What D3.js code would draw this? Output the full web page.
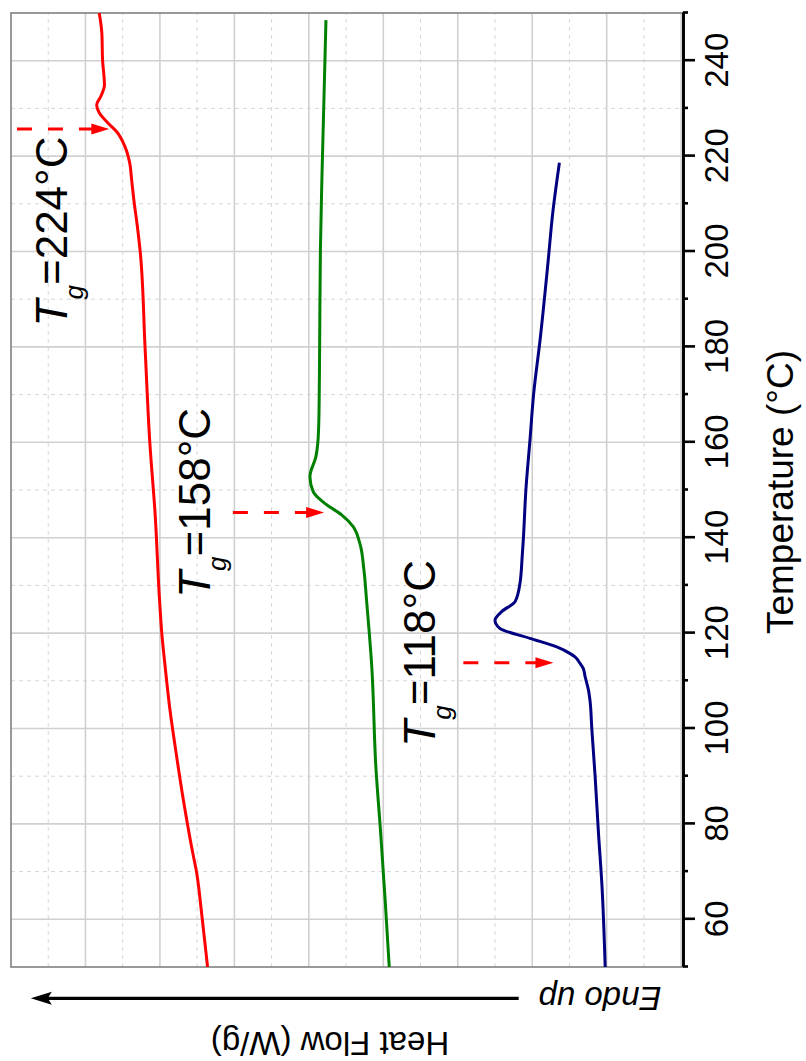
<!DOCTYPE html>
<html>
<head>
<meta charset="utf-8">
<script src="https://cdn.jsdelivr.net/npm/d3@7"></script>
<style>
  body { margin: 0; background: #fff; }
  svg { display: block; }
  text { font-family: "Liberation Sans", Arial, sans-serif; }
</style>
</head>
<body>
<div id="wrapper"></div>
<script>
// DSC heat flow curves
// temperature (°C) and heat flow (W/g, arbitrary offset)
const redTemp = [50, 61.3, 69.6, 75.2, 85.0, 96.2, 103.9, 113.0, 120.0, 126.9, 145.1, 159.8, 180.0, 200.0,
  205.5, 210.8, 215.0, 218.5, 222.0, 225.1, 226.9, 229.1, 230.7, 232.5, 234.9, 240.1, 245.8, 250];
const redFlow = [-0.528, -0.512, -0.499, -0.485, -0.463, -0.441, -0.427, -0.414, -0.405, -0.399, -0.387, -0.373, -0.360, -0.347,
  -0.339, -0.330, -0.324, -0.319, -0.306, -0.284, -0.261, -0.237, -0.230, -0.241, -0.251, -0.246, -0.244, -0.237];

const greenTemp = [50, 64.0, 78.0, 92.0, 113.0, 126.9, 133.2, 138.8, 142.3, 144.8, 146.9, 149.6, 152.8, 157.0,
  159.8, 165.0, 180.0, 200.0, 215.0, 248.5];
const greenFlow = [-1.016, -1.005, -0.993, -0.980, -0.969, -0.955, -0.948, -0.937, -0.919, -0.888, -0.848, -0.812, -0.803, -0.819,
  -0.824, -0.827, -0.829, -0.831, -0.835, -0.846];

const blueTemp = [50, 67.5, 78.0, 89.9, 100.0, 106.0, 108.1, 110.9, 112.6, 113.7, 115.0, 115.7, 117.1, 118.9,
  121.0, 122.7, 124.5, 126.6, 130.4, 136.0, 139.5, 150.0, 160.5, 170.3, 181.4, 198.2, 208.0, 218.6];
const blueFlow = [-1.596, -1.587, -1.578, -1.569, -1.560, -1.555, -1.551, -1.542, -1.537, -1.528, -1.515, -1.502, -1.466, -1.394,
  -1.313, -1.300, -1.318, -1.354, -1.367, -1.373, -1.376, -1.383, -1.394, -1.404, -1.421, -1.443, -1.455, -1.473];

// Tg annotations: label value, arrow temperature, arrow start/end heat flow
const tgValues = ["224", "158", "118"];
const arrowTemp = [225.7, 145.3, 113.8];
const arrowFrom = [-0.016, -0.596, -1.215];
const arrowTo = [-0.264, -0.841, -1.457];

const tempMajor = [60, 80, 100, 120, 140, 160, 180, 200, 220, 240];
const tempMinor = [50, 70, 90, 110, 130, 150, 170, 190, 210, 230, 250];
const flowMajor = [0, -0.2, -0.4, -0.6, -0.8, -1.0, -1.2, -1.4, -1.6, -1.8];
const flowMinor = [-0.1, -0.3, -0.5, -0.7, -0.9, -1.1, -1.3, -1.5, -1.7];

// chart is drawn upright (1061 x 806) then turned a quarter turn
const W = 1061, H = 806;
const margin = {top: 11, right: 13, bottom: 123, left: 94};

const svg = d3.select("#wrapper").append("svg")
  .attr("width", 806)
  .attr("height", 1061);

const root = svg.append("g")
  .attr("transform", "translate(0," + W + ") rotate(-90)");

const x = d3.scaleLinear().domain([50, 250]).range([margin.left, W - margin.right]);
const y = d3.scaleLinear().domain([0, -1.805]).range([margin.top, H - margin.bottom]);

// grid
const grid = root.append("g");
grid.selectAll(".vmin").data(tempMinor.filter(t => t > 50 && t < 250)).enter()
  .append("line")
  .attr("x1", d => x(d)).attr("x2", d => x(d))
  .attr("y1", y.range()[0]).attr("y2", y.range()[1])
  .attr("stroke", "#d6d6d6").attr("stroke-width", 1).attr("stroke-dasharray", "4,4");
grid.selectAll(".hmin").data(flowMinor).enter()
  .append("line")
  .attr("x1", x.range()[0]).attr("x2", x.range()[1])
  .attr("y1", d => y(d)).attr("y2", d => y(d))
  .attr("stroke", "#d6d6d6").attr("stroke-width", 1).attr("stroke-dasharray", "4,4");
grid.selectAll(".vmaj").data(tempMajor).enter()
  .append("line")
  .attr("x1", d => x(d)).attr("x2", d => x(d))
  .attr("y1", y.range()[0]).attr("y2", y.range()[1])
  .attr("stroke", "#d0d0d0").attr("stroke-width", 1.6);
grid.selectAll(".hmaj").data(flowMajor.filter(f => f < 0)).enter()
  .append("line")
  .attr("x1", x.range()[0]).attr("x2", x.range()[1])
  .attr("y1", d => y(d)).attr("y2", d => y(d))
  .attr("stroke", "#d0d0d0").attr("stroke-width", 1.6);

// frame
root.append("rect")
  .attr("x", x.range()[0]).attr("y", y.range()[0])
  .attr("width", x.range()[1] - x.range()[0])
  .attr("height", y.range()[1] - y.range()[0])
  .attr("fill", "none").attr("stroke", "#808080").attr("stroke-width", 1.6);

root.append("clipPath").attr("id", "plotclip")
  .append("rect")
  .attr("x", x.range()[0]).attr("y", y.range()[0])
  .attr("width", x.range()[1] - x.range()[0])
  .attr("height", y.range()[1] - y.range()[0]);

// curves
const series = [
  {t: redTemp, f: redFlow, color: "#ff0000"},
  {t: greenTemp, f: greenFlow, color: "#008000"},
  {t: blueTemp, f: blueFlow, color: "#000080"}
];
const line = d3.line()
  .x(d => x(d[0]))
  .y(d => y(d[1]))
  .curve(d3.curveMonotoneX);

root.append("g").attr("clip-path", "url(#plotclip)")
  .selectAll("path").data(series).enter()
  .append("path")
  .attr("d", s => line(s.t.map((t, i) => [t, s.f[i]])))
  .attr("fill", "none")
  .attr("stroke", s => s.color)
  .attr("stroke-width", 3)
  .attr("stroke-linejoin", "round");

// temperature axis
const tickFont = 33;
const axMinor = root.append("g")
  .attr("transform", "translate(0," + y.range()[1] + ")")
  .call(d3.axisBottom(x).tickValues(tempMinor).tickSize(5).tickSizeOuter(0).tickFormat(""));
const axMajor = root.append("g")
  .attr("transform", "translate(0," + y.range()[1] + ")")
  .call(d3.axisBottom(x).tickValues(tempMajor).tickSize(12).tickSizeOuter(0).tickPadding(10));
[axMinor, axMajor].forEach(a => {
  a.select(".domain").attr("stroke", "#000").attr("stroke-width", 2.6);
  a.selectAll(".tick line").attr("stroke", "#000").attr("stroke-width", 2.6);
});
axMajor.selectAll(".tick text")
  .attr("font-size", tickFont)
  .attr("font-family", "Liberation Sans, Arial, sans-serif")
  .attr("fill", "#000");

root.append("text")
  .attr("x", (x.range()[0] + x.range()[1]) / 2 - 2)
  .attr("y", 793)
  .attr("text-anchor", "middle")
  .attr("font-size", 37)
  .text("Temperature (°C)");

// heat flow label and endo arrow
root.append("text")
  .attr("transform", "translate(29.3,330) rotate(-90)")
  .attr("text-anchor", "middle")
  .attr("font-size", 33)
  .text("Heat Flow (W/g)");

root.append("text")
  .attr("transform", "translate(74,600) rotate(-90)")
  .attr("text-anchor", "middle")
  .attr("font-size", 33)
  .attr("font-style", "italic")
  .text("Endo up");

const endoX = 62.7, endoFrom = 518.7, endoTip = 30.8;
root.append("line")
  .attr("x1", endoX).attr("x2", endoX)
  .attr("y1", endoFrom).attr("y2", endoTip + 16)
  .attr("stroke", "#000").attr("stroke-width", 3.2);
root.append("path")
  .attr("d", `M${endoX},${endoTip} L${endoX - 6.5},${endoTip + 21} L${endoX},${endoTip + 17} L${endoX + 6.5},${endoTip + 21} Z`)
  .attr("fill", "#000");

// Tg arrows
const head = 18;
tgValues.forEach((v, i) => {
  const ax = x(arrowTemp[i]);
  const y0 = y(arrowFrom[i]), y1 = y(arrowTo[i]);
  root.append("line")
    .attr("x1", ax).attr("x2", ax)
    .attr("y1", y0).attr("y2", y1 - head + 2)
    .attr("stroke", "#ff0000").attr("stroke-width", 3)
    .attr("stroke-dasharray", "15,16");
  root.append("path")
    .attr("d", `M${ax},${y1} L${ax - 5.5},${y1 - head} L${ax + 5.5},${y1 - head} Z`)
    .attr("fill", "#ff0000");
});

// Tg labels (start position in data units)
const labelPos = [[184.3, -0.150], [127.4, -0.535], [96.2, -1.139]];
tgValues.forEach((v, i) => {
  const t = root.append("text")
    .attr("x", x(labelPos[i][0]))
    .attr("y", y(labelPos[i][1]))
    .attr("font-size", 44)
    .attr("fill", "#000");
  t.append("tspan").attr("font-style", "italic").text("T");
  t.append("tspan").attr("font-style", "italic").attr("font-size", 26).attr("dy", 16).text("g");
  t.append("tspan").attr("dy", -16).text("=" + v + "°C");
});
</script>
</body>
</html>
